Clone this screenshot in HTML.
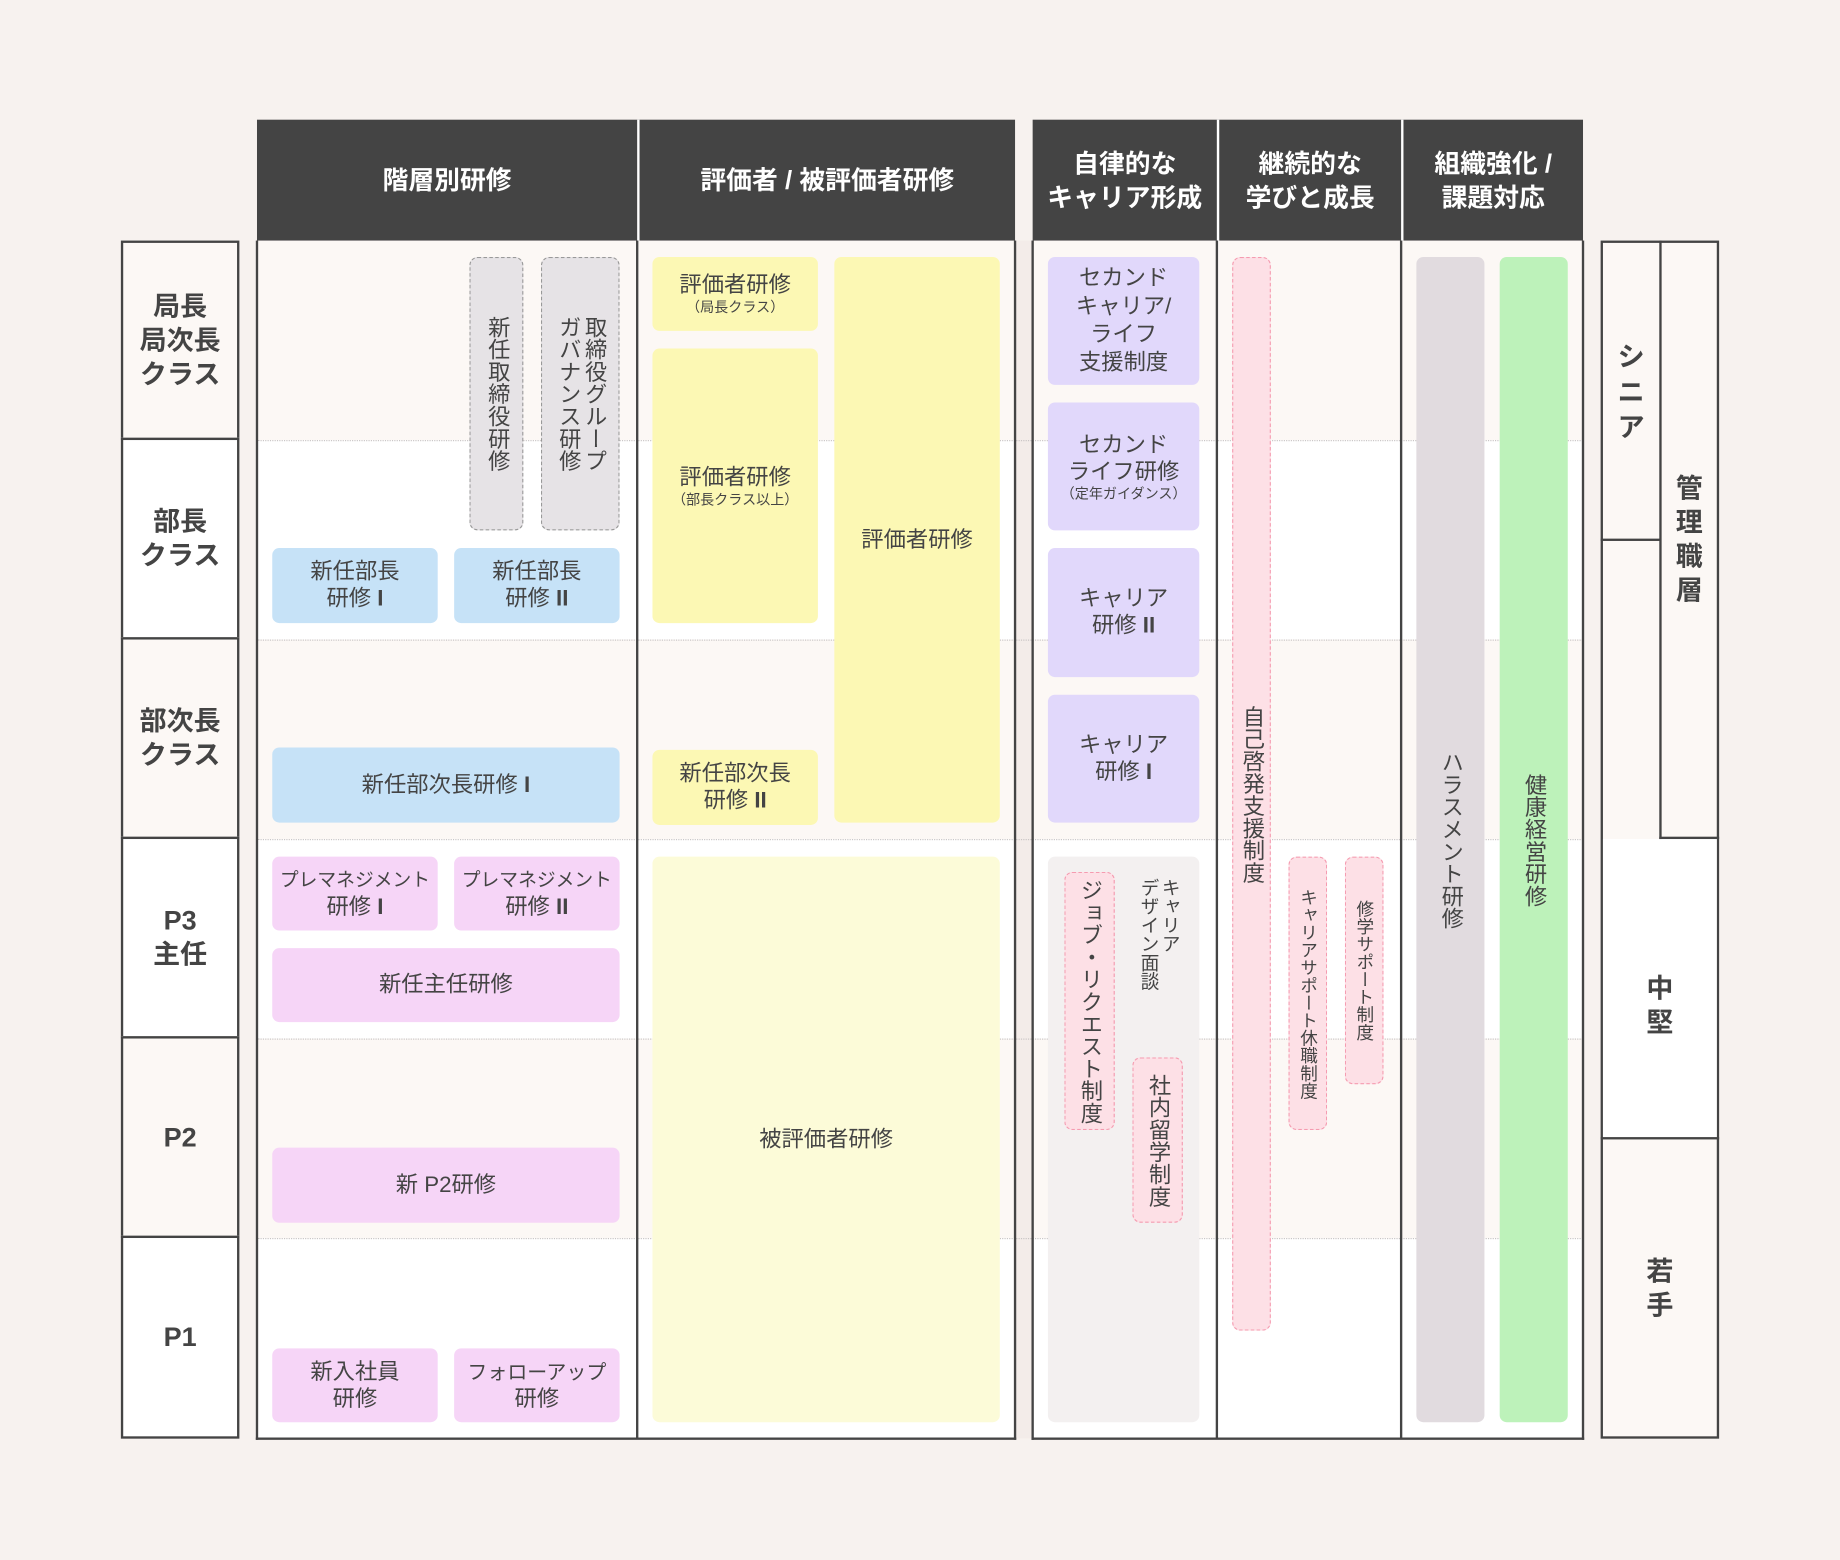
<!DOCTYPE html>
<html><head><meta charset="utf-8"><style>
html,body{margin:0;padding:0;background:#f7f2ef;}
body{width:1840px;height:1560px;overflow:hidden;}
#w{position:absolute;left:0;top:0;width:1568px;height:1329px;transform:scale(1.173469);transform-origin:0 0;font-family:"Liberation Sans","Noto Sans CJK JP",sans-serif;color:#444;}
.a{position:absolute;box-sizing:border-box;}
.c{display:flex;align-items:center;justify-content:center;text-align:center;}
.hd{background:#444;color:#fff;font-weight:bold;font-size:22px;line-height:29px;}
.row{position:absolute;height:170px;}
.lt{background:#fcf8f5;}
.wh{background:#fff;}
.dl{position:absolute;height:0;border-top:1.5px dotted #c8c4c4;}
.bx{border-radius:6px;font-size:19px;line-height:23px;}
.blue{background:#c6e2f7;}
.pink{background:#f6d5f7;}
.yel{background:#fcf8b4;}
.pur{background:#e1d8fb;}
.v{writing-mode:vertical-rl;}
.pd{background:#fde0e6;border:1.5px dashed #f59bb0;border-radius:7px;}
.gd{background:#e6e3e6;border:1.5px dashed #999;border-radius:7px;}
.lab{font-weight:bold;font-size:23px;line-height:29px;}
.sm{font-size:12px;line-height:14px;display:block;}
b{font-weight:bold;}
</style></head><body><div id="w">
<div class="row lt" style="left:219px;top:205px;width:1130px"></div>
<div class="row wh" style="left:219px;top:375px;width:1130px"></div>
<div class="row lt" style="left:219px;top:545px;width:1130px"></div>
<div class="row wh" style="left:219px;top:715px;width:1130px"></div>
<div class="row lt" style="left:219px;top:885px;width:1130px"></div>
<div class="row wh" style="left:219px;top:1055px;width:1130px;height:171px"></div>
<div class="a" style="left:865px;top:205px;width:15px;height:1021px;background:#f3ece9"></div>
<div class="dl" style="left:219px;top:375px;width:1130px"></div>
<div class="dl" style="left:219px;top:545px;width:1130px"></div>
<div class="dl" style="left:219px;top:715px;width:1130px"></div>
<div class="dl" style="left:219px;top:885px;width:1130px"></div>
<div class="dl" style="left:219px;top:1055px;width:1130px"></div>
<div class="a hd c" style="left:219px;top:102px;width:324px;height:103px">階層別研修</div>
<div class="a hd c" style="left:543px;top:102px;width:322px;height:103px;border-left:2px solid #fff">評価者 / 被評価者研修</div>
<div class="a hd c" style="left:880px;top:102px;width:157px;height:103px">自律的な<br>キャリア形成</div>
<div class="a hd c" style="left:1037px;top:102px;width:157px;height:103px;border-left:2px solid #fff">継続的な<br>学びと成長</div>
<div class="a hd c" style="left:1194px;top:102px;width:155px;height:103px;border-left:2px solid #fff">組織強化 /<br>課題対応</div>
<div class="a" style="left:218px;top:205px;width:648px;height:1022px;border:2px solid #444;border-top:none"></div>
<div class="a" style="left:542px;top:205px;width:2px;height:1021px;background:#444"></div>
<div class="a" style="left:879px;top:205px;width:471px;height:1022px;border:2px solid #444;border-top:none"></div>
<div class="a" style="left:1036px;top:205px;width:2px;height:1021px;background:#444"></div>
<div class="a" style="left:1193px;top:205px;width:2px;height:1021px;background:#444"></div>
<div class="a lab c lt" style="left:103px;top:205px;width:101px;height:170px;border:2px solid #444">局長<br>局次長<br>クラス</div>
<div class="a lab c wh" style="left:103px;top:373px;width:101px;height:172px;border:2px solid #444">部長<br>クラス</div>
<div class="a lab c lt" style="left:103px;top:543px;width:101px;height:172px;border:2px solid #444">部次長<br>クラス</div>
<div class="a lab c wh" style="left:103px;top:713px;width:101px;height:172px;border:2px solid #444">P3<br>主任</div>
<div class="a lab c lt" style="left:103px;top:883px;width:101px;height:172px;border:2px solid #444">P2</div>
<div class="a lab c wh" style="left:103px;top:1053px;width:101px;height:173px;border:2px solid #444">P1</div>
<div class="a lt" style="left:1364px;top:205px;width:101px;height:1021px;border:2px solid #444"></div>
<div class="a wh" style="left:1366px;top:715px;width:97px;height:255px"></div>
<div class="a" style="left:1414px;top:205px;width:2px;height:510px;background:#444"></div>
<div class="a" style="left:1414px;top:713px;width:51px;height:2px;background:#444"></div>
<div class="a" style="left:1364px;top:459px;width:51px;height:2px;background:#444"></div>
<div class="a" style="left:1364px;top:969px;width:101px;height:2px;background:#444"></div>
<div class="a lab c" style="left:1366px;top:207px;width:48px;height:252px;align-items:flex-start;padding-top:82px;line-height:30px">シ<br>ニ<br>ア</div>
<div class="a lab c" style="left:1416px;top:207px;width:47px;height:506px;line-height:29px">管<br>理<br>職<br>層</div>
<div class="a lab c" style="left:1366px;top:715px;width:97px;height:254px;padding-top:30px">中<br>堅</div>
<div class="a lab c" style="left:1366px;top:971px;width:97px;height:253px">若<br>手</div>
<div class="a gd c v" style="left:400px;top:219px;width:46px;height:233px;font-size:19px;line-height:22px">新任取締役研修</div>
<div class="a gd c v" style="left:461px;top:219px;width:67px;height:233px;font-size:19px;line-height:22px">取締役グループ<br>ガバナンス研修</div>
<div class="a bx c blue" style="left:232px;top:467px;width:141px;height:64px"><div>新任部長<br>研修 <b>I</b></div></div>
<div class="a bx c blue" style="left:387px;top:467px;width:141px;height:64px"><div>新任部長<br>研修 <b>II</b></div></div>
<div class="a bx c blue" style="left:232px;top:637px;width:296px;height:64px"><div>新任部次長研修 <b>I</b></div></div>
<div class="a bx c pink" style="left:232px;top:730px;width:141px;height:63px"><div><span style="font-size:16px">プレマネジメント</span><br>研修 <b>I</b></div></div>
<div class="a bx c pink" style="left:387px;top:730px;width:141px;height:63px"><div><span style="font-size:16px">プレマネジメント</span><br>研修 <b>II</b></div></div>
<div class="a bx c pink" style="left:232px;top:808px;width:296px;height:63px">新任主任研修</div>
<div class="a bx c pink" style="left:232px;top:978px;width:296px;height:64px">新 P2研修</div>
<div class="a bx c pink" style="left:232px;top:1149px;width:141px;height:63px"><div>新入社員<br>研修</div></div>
<div class="a bx c pink" style="left:387px;top:1149px;width:141px;height:63px"><div><span style="font-size:17px">フォローアップ</span><br>研修</div></div>
<div class="a bx c yel" style="left:556px;top:219px;width:141px;height:63px"><div>評価者研修<span class="sm">（局長クラス）</span></div></div>
<div class="a bx c yel" style="left:556px;top:297px;width:141px;height:234px"><div>評価者研修<span class="sm">（部長クラス以上）</span></div></div>
<div class="a bx c yel" style="left:711px;top:219px;width:141px;height:482px">評価者研修</div>
<div class="a bx c yel" style="left:556px;top:639px;width:141px;height:64px"><div>新任部次長<br>研修 <b>II</b></div></div>
<div class="a bx c" style="left:556px;top:730px;width:296px;height:482px;background:#fcfbd8">被評価者研修</div>
<div class="a bx c pur" style="left:893px;top:219px;width:129px;height:109px;font-size:19px;line-height:24px"><div>セカンド<br>キャリア/<br>ライフ<br>支援制度</div></div>
<div class="a bx c pur" style="left:893px;top:343px;width:129px;height:109px"><div>セカンド<br>ライフ研修<span class="sm">（定年ガイダンス）</span></div></div>
<div class="a bx c pur" style="left:893px;top:467px;width:129px;height:110px"><div>キャリア<br>研修 <b>II</b></div></div>
<div class="a bx c pur" style="left:893px;top:592px;width:129px;height:109px"><div>キャリア<br>研修 <b>I</b></div></div>
<div class="a bx" style="left:893px;top:730px;width:129px;height:482px;background:#f3f0f0"></div>
<div class="a pd c v" style="left:907px;top:743px;width:43px;height:220px;font-size:19px">ジョブ・リクエスト制度</div>
<div class="a v" style="left:968px;top:748px;height:110px;font-size:16px;line-height:18px">キャリア<br>デザイン面談</div>
<div class="a pd c v" style="left:965px;top:901px;width:43px;height:141px;font-size:19px">社内留学制度</div>
<div class="a pd c v" style="left:1050px;top:219px;width:33px;height:915px;font-size:19px">自己啓発支援制度</div>
<div class="a pd c v" style="left:1098px;top:730px;width:33px;height:233px;font-size:15px">キャリアサポート休職制度</div>
<div class="a pd c v" style="left:1146px;top:730px;width:33px;height:194px;font-size:15px">修学サポート制度</div>
<div class="a bx c v" style="left:1207px;top:219px;width:58px;height:993px;background:#e1dbdf">ハラスメント研修</div>
<div class="a bx c v" style="left:1278px;top:219px;width:58px;height:993px;background:#bdf2ba">健康経営研修</div>
</div></body></html>
